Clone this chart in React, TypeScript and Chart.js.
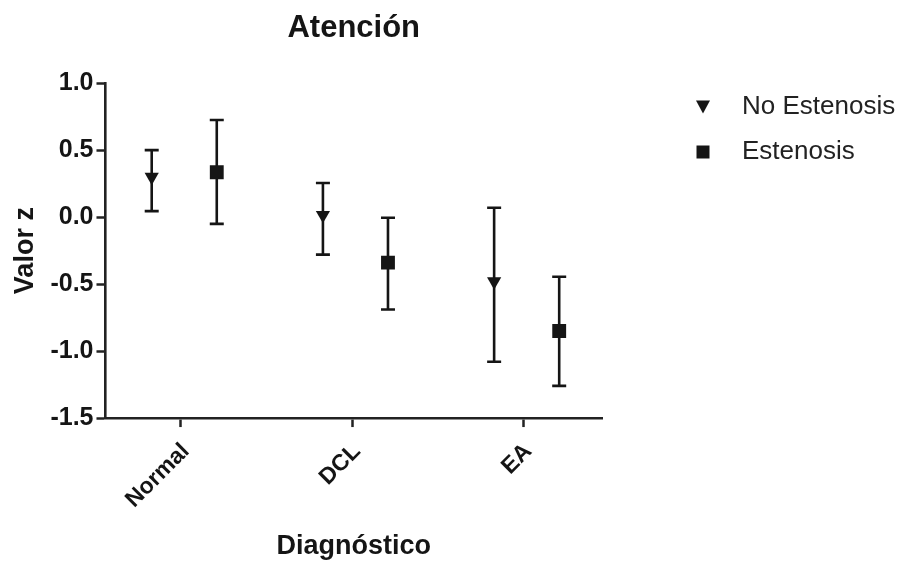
import React, { useEffect, useRef } from 'react';
import { Chart, registerables } from 'chart.js';

Chart.register(...registerables);

const categories = ['Normal', 'DCL', 'EA'];
const seriesLabels = ['No Estenosis', 'Estenosis'];
const yTickValues = [-1.5, -1.0, -0.5, 0.0, 0.5, 1.0];

const noEstMean = [0.3, 0.015, -0.48];
const noEstLow = [0.045, -0.28, -1.08];
const noEstHigh = [0.5, 0.255, 0.07];

const estMean = [0.335, -0.34, -0.85];
const estLow = [-0.05, -0.69, -1.26];
const estHigh = [0.725, -0.005, -0.445];

const FONT = "'Liberation Sans', Arial, Helvetica, sans-serif";
const INK = '#151515';

const groupOffsets = [-0.17, 0.21];

function buildPoints(mean: number[], low: number[], high: number[], offset: number) {
  return mean.map((m, i) => ({ x: i + offset, y: m, low: low[i], high: high[i] }));
}

const errorBarPlugin = {
  id: 'errorBars',
  beforeDatasetsDraw(chart: any) {
    const { ctx } = chart;
    const x = chart.scales.x;
    const y = chart.scales.y;
    ctx.save();
    ctx.strokeStyle = INK;
    ctx.lineWidth = 2.6;
    ctx.lineCap = 'butt';
    chart.data.datasets.forEach((ds: any) => {
      ds.data.forEach((pt: any) => {
        const px = x.getPixelForValue(pt.x);
        const yl = y.getPixelForValue(pt.low);
        const yh = y.getPixelForValue(pt.high);
        const cap = 7;
        ctx.beginPath();
        ctx.moveTo(px, yl);
        ctx.lineTo(px, yh);
        ctx.moveTo(px - cap, yl);
        ctx.lineTo(px + cap, yl);
        ctx.moveTo(px - cap, yh);
        ctx.lineTo(px + cap, yh);
        ctx.stroke();
      });
    });
    ctx.restore();
  },
};

const legendPlugin = {
  id: 'sideLegend',
  afterDraw(chart: any) {
    const { ctx, chartArea } = chart;
    const markerX = chartArea.right + 101;
    const textX = chartArea.right + 140;
    const startY = 107;
    const step = 45;
    ctx.save();
    chart.data.datasets.forEach((ds: any, i: number) => {
      const cy = startY + i * step;
      ctx.fillStyle = INK;
      ctx.beginPath();
      if (ds.pointStyle === 'triangle') {
        ctx.moveTo(markerX - 7, cy - 6.5);
        ctx.lineTo(markerX + 7, cy - 6.5);
        ctx.lineTo(markerX, cy + 6.5);
        ctx.closePath();
      } else {
        ctx.rect(markerX - 6.5, cy - 6.5, 13, 13);
      }
      ctx.fill();
      ctx.font = `26px ${FONT}`;
      ctx.fillStyle = '#222';
      ctx.textAlign = 'left';
      ctx.textBaseline = 'middle';
      ctx.fillText(ds.label, textX, cy);
    });
    ctx.restore();
  },
};

export default function App() {
  const canvasRef = useRef<HTMLCanvasElement | null>(null);

  useEffect(() => {
    document.body.style.margin = '0';
    const canvas = canvasRef.current;
    if (!canvas) return;
    const chart = new Chart(canvas, {
      type: 'scatter',
      data: {
        datasets: [
          {
            label: seriesLabels[0],
            data: buildPoints(noEstMean, noEstLow, noEstHigh, groupOffsets[0]),
            pointStyle: 'triangle',
            rotation: 180,
            pointRadius: 8.2,
            backgroundColor: INK,
            borderColor: INK,
            borderWidth: 0,
          } as any,
          {
            label: seriesLabels[1],
            data: buildPoints(estMean, estLow, estHigh, groupOffsets[1]),
            pointStyle: 'rect',
            pointRadius: 9.8,
            backgroundColor: INK,
            borderColor: INK,
            borderWidth: 0,
          } as any,
        ],
      },
      options: {
        responsive: false,
        devicePixelRatio: 1,
        animation: false,
        events: [],
        layout: { padding: { left: 0, right: 302, top: 0, bottom: 0 } },
        plugins: {
          legend: { display: false },
          tooltip: { enabled: false },
          title: {
            display: true,
            text: 'Atención',
            fullSize: false,
            color: INK,
            font: { family: FONT, size: 31, weight: 'bold' },
            padding: { top: 10, bottom: 36 },
          },
        },
        scales: {
          x: {
            type: 'linear',
            min: -0.44,
            max: 2.46,
            afterBuildTicks: (scale: any) => {
              scale.ticks = categories.map((_, i) => ({ value: i }));
            },
            ticks: {
              autoSkip: false,
              minRotation: 45,
              maxRotation: 45,
              padding: 11,
              labelOffset: 5,
              color: INK,
              font: { family: FONT, size: 23, weight: 'bold' },
              callback: (v: any) => categories[Math.round(Number(v))] ?? '',
            },
            grid: {
              drawOnChartArea: false,
              drawTicks: true,
              tickLength: 9,
              tickWidth: 2.5,
              tickColor: '#222',
            },
            border: { display: true, color: '#222', width: 2.6 },
            title: {
              display: true,
              text: 'Diagnóstico',
              color: INK,
              font: { family: FONT, size: 27, weight: 'bold' },
              padding: { top: 6, bottom: 3 },
            },
          },
          y: {
            type: 'linear',
            min: -1.5,
            max: 1.0,
            afterBuildTicks: (scale: any) => {
              scale.ticks = yTickValues.map((v) => ({ value: v }));
            },
            ticks: {
              padding: 3,
              color: INK,
              font: { family: FONT, size: 25, weight: 'bold' },
              callback: (v: any) => Number(v).toFixed(1),
            },
            grid: {
              drawOnChartArea: false,
              drawTicks: true,
              tickLength: 9,
              tickWidth: 2.5,
              tickColor: '#222',
            },
            border: { display: true, color: '#222', width: 2.6 },
            title: {
              display: true,
              text: 'Valor z',
              color: INK,
              font: { family: FONT, size: 27, weight: 'bold' },
              padding: { top: 9, bottom: 6 },
            },
          },
        },
      } as any,
      plugins: [errorBarPlugin, legendPlugin],
    });
    return () => chart.destroy();
  }, []);

  return (
    <div style={{ position: 'fixed', left: 0, top: 0, width: 904, height: 566, background: '#fff' }}>
      <canvas ref={canvasRef} width={904} height={566} style={{ display: 'block' }} />
    </div>
  );
}
